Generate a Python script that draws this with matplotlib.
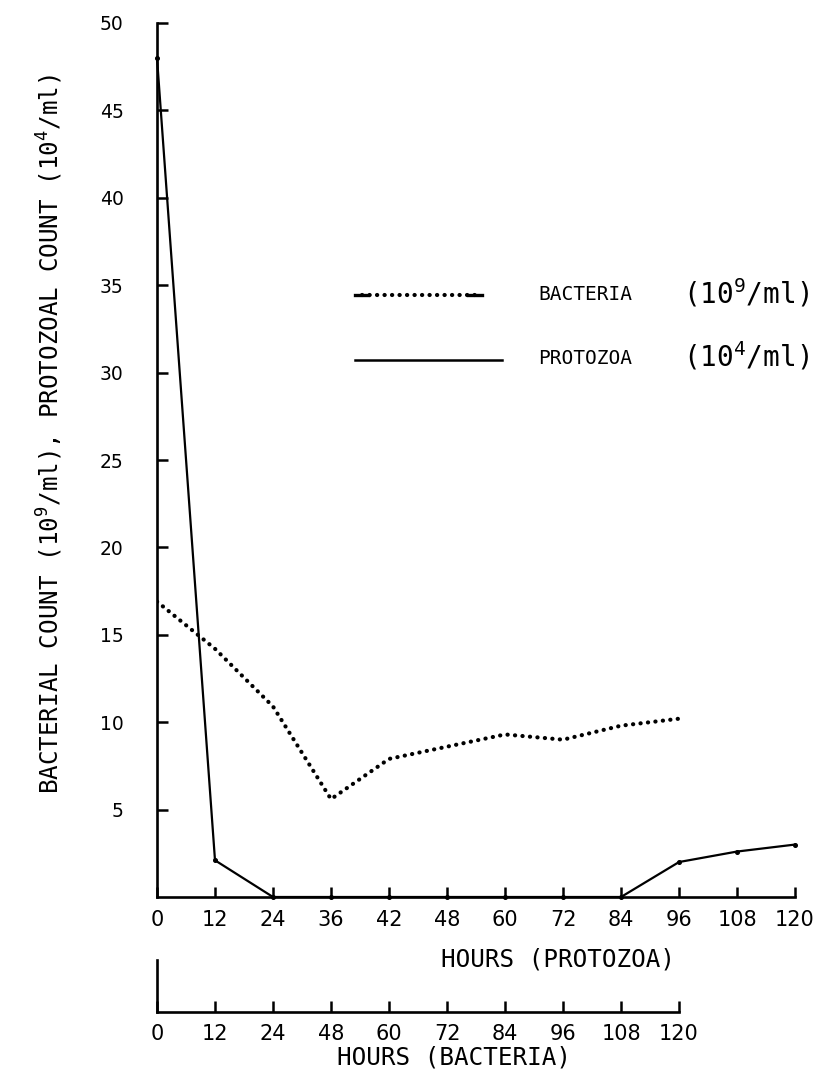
import numpy as np
import matplotlib
matplotlib.use("Agg")
import matplotlib.pyplot as plt
from matplotlib.lines import Line2D

plt.rcParams['mathtext.fontset'] = 'custom'
plt.rcParams['mathtext.rm'] = 'DejaVu Sans Mono'
plt.rcParams['mathtext.default'] = 'regular'

# Sampling times (hours) for each organism
protozoa_hours = ["0", "12", "24", "36", "42", "48", "60", "72", "84", "96", "108", "120"]
bacteria_hours = ["0", "12", "24", "48", "60", "72", "84", "96", "108", "120"]

# Counts: protozoa in 10^4/ml, bacteria in 10^9/ml
protozoa_count = [48.0, 2.1, 0.0, 0.0, 0.0, 0.0, 0.0, 0.0, 0.0, 2.0, 2.6, 3.0]
bacteria_count = [16.9, 14.2, 10.9, 5.6, 7.9, 8.6, 9.3, 9.0, 9.8, 10.2]

y_ticks = [5, 10, 15, 20, 25, 30, 35, 40, 45, 50]

W, H = 824, 1076
fig = plt.figure(figsize=(W / 100, H / 100), dpi=100)


def fx(px):
    return px / W


def fy(py):
    return 1 - py / H


DOTTED = (0, (0.05, 1.75))

# main axes: protozoa time scale along the bottom
x0, x1 = 157, 795
y0, y1 = 23, 897
ax = fig.add_axes([fx(x0), fy(y1), fx(x1) - fx(x0), fy(y0) - fy(y1)])
n_p = len(protozoa_hours)
ax.set_xlim(0, n_p - 1)
ax.set_ylim(0, 50)
for s in ("top", "right"):
    ax.spines[s].set_visible(False)
for s in ("left", "bottom"):
    ax.spines[s].set_linewidth(1.9)

xp = np.arange(n_p)
ax.plot(xp, protozoa_count, color="black", lw=1.6, marker="o", ms=2.6,
        solid_joinstyle="round", clip_on=False, zorder=3)

xb = np.arange(len(bacteria_hours))
ax.plot(xb, bacteria_count, color="black", lw=3.0,
        linestyle=DOTTED, dash_capstyle="round", zorder=3)

ax.set_xticks(xp)
ax.set_xticklabels(protozoa_hours, fontsize=15, family="DejaVu Sans")
ax.set_yticks(y_ticks)
ax.set_yticklabels([str(v) for v in y_ticks], fontsize=13.5, family="DejaVu Sans")
ax.tick_params(axis="x", direction="in", length=7, width=1.8, pad=9)
ax.tick_params(axis="y", direction="in", length=8, width=1.8, pad=24)

ax.set_xlabel("HOURS (PROTOZOA)", fontsize=17.5, family="DejaVu Sans Mono", va="center")
ax.xaxis.set_label_coords((558 - x0) / (x1 - x0), (y1 - 960) / (y1 - y0))

# secondary axis: bacteria time scale
bx1 = x0 + (x1 - x0) / (n_p - 1) * (len(bacteria_hours) - 1)
by0, by1 = 960, 1012
axb = fig.add_axes([fx(x0), fy(by1), fx(bx1) - fx(x0), fy(by0) - fy(by1)])
axb.set_xlim(0, len(bacteria_hours) - 1)
axb.set_ylim(0, 1)
for s in ("top", "right"):
    axb.spines[s].set_visible(False)
for s in ("left", "bottom"):
    axb.spines[s].set_linewidth(1.9)
axb.set_yticks([])
axb.set_xticks(xb)
axb.set_xticklabels(bacteria_hours, fontsize=15, family="DejaVu Sans")
axb.tick_params(axis="x", direction="in", length=8, width=1.8, pad=9)
axb.set_xlabel("HOURS (BACTERIA)", fontsize=17.5, family="DejaVu Sans Mono", va="center")
axb.xaxis.set_label_coords((454 - x0) / (bx1 - x0), (by1 - 1057) / (by1 - by0))
axb.patch.set_alpha(0)

# y-axis title
fig.text(fx(50), fy(434),
         "BACTERIAL COUNT (10$^9$/ml), PROTOZOAL COUNT (10$^4$/ml)",
         rotation=90, ha="center", va="center", fontsize=17.5,
         family="DejaVu Sans Mono")

# legend keys
fig.add_artist(Line2D([fx(362), fx(476)], [fy(295), fy(295)], color="black", lw=3.0,
                      linestyle=DOTTED, dash_capstyle="round"))
for a, b in ((355, 368), (468, 482)):
    fig.add_artist(Line2D([fx(a), fx(b)], [fy(295), fy(295)], color="black", lw=2.4))
fig.add_artist(Line2D([fx(355), fx(502)], [fy(360), fy(360)], color="black", lw=1.8))
fig.text(fx(538), fy(295), "BACTERIA", fontsize=14, family="DejaVu Sans Mono",
         ha="left", va="center")
fig.text(fx(683), fy(293), "(10$^9$/ml)", fontsize=20, family="DejaVu Sans Mono",
         ha="left", va="center")
fig.text(fx(538), fy(358), "PROTOZOA", fontsize=14, family="DejaVu Sans Mono",
         ha="left", va="center")
fig.text(fx(683), fy(356), "(10$^4$/ml)", fontsize=20, family="DejaVu Sans Mono",
         ha="left", va="center")

fig.savefig("out.png", dpi=100)
